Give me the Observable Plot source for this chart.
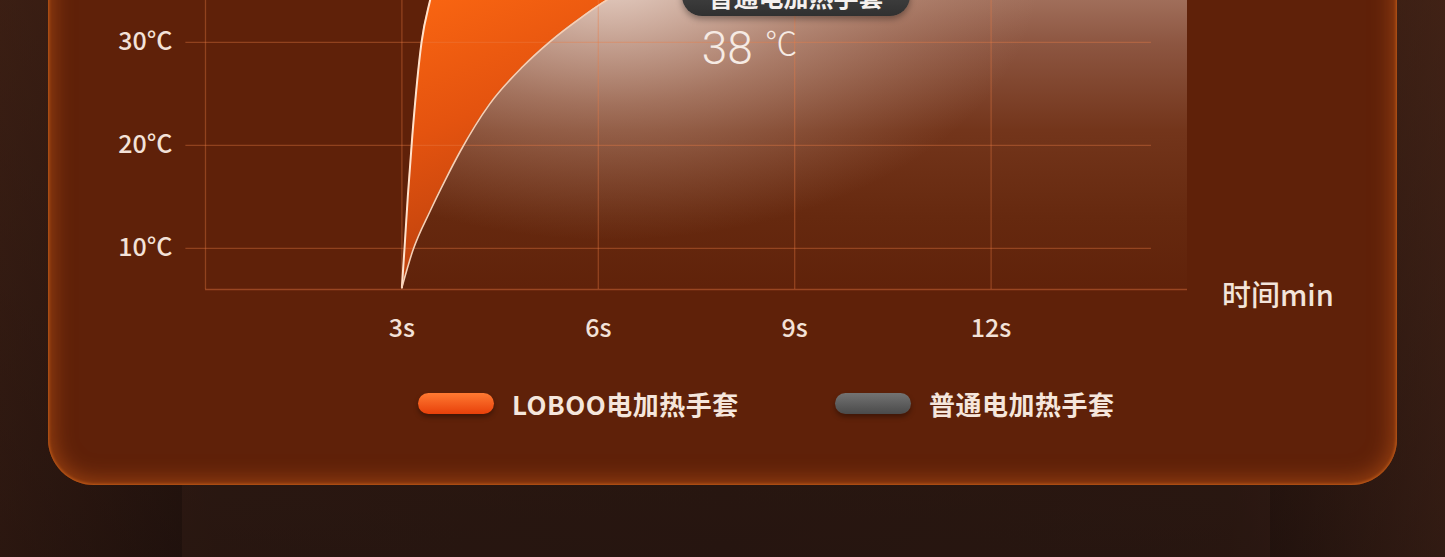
<!DOCTYPE html>
<html><head><meta charset="utf-8">
<script src="https://cdn.jsdelivr.net/npm/d3@7"></script>
<script src="https://cdn.jsdelivr.net/npm/@observablehq/plot@0.6"></script>
<style>
html,body{margin:0;padding:0;width:1445px;height:557px;overflow:hidden;}
body{position:relative;background:linear-gradient(90deg,#3a1f15 0%,#24140f 15%,#1f120d 50%,#24140f 85%,#45261a 100%);font-family:"Noto Sans CJK SC","Noto Sans",sans-serif;}
#shade{position:absolute;left:0;top:0;width:1445px;height:557px;background:linear-gradient(180deg,rgba(60,30,18,0.5) 0%,rgba(20,10,8,0.4) 100%);}
#under{position:absolute;left:182px;top:470px;width:1088px;height:100px;background:rgba(60,35,25,0.35);}
#card{position:absolute;left:48px;top:-120px;width:1349px;height:605px;border-radius:46px;background:#5f2109;box-shadow:inset 0 0 3px 1px rgba(200,95,25,0.9), inset 0 0 22px 4px rgba(170,75,20,0.8);}
#chart{position:absolute;left:0;top:0;}
.bubble{position:absolute;left:682px;top:-24px;width:228px;height:40px;border-radius:20px;background:linear-gradient(180deg,#4c4c4c,#303030);box-shadow:0 3px 6px rgba(0,0,0,0.35);color:#f4f0ee;font-size:25px;font-weight:700;text-align:center;line-height:40px;}
.xlabel{position:absolute;left:1222px;top:273px;font-size:29px;color:#f3e4da;font-weight:500;line-height:40px;}
.leg{position:absolute;top:389px;height:28px;display:flex;align-items:center;}
.pill{width:76px;height:21px;border-radius:11px;margin-right:18px;box-shadow:0 3px 5px rgba(0,0,0,0.35);}
.leg span{font-size:26px;font-weight:700;color:#f5e6dc;white-space:nowrap;letter-spacing:0.5px;}
</style></head>
<body>
<div id="shade"></div>
<div id="under"></div>
<div id="card"></div>
<div id="chart"></div>
<div class="bubble" id="bubble"></div>
<div class="xlabel" id="xlabel"></div>
<div class="leg" id="leg1" style="left:418px"><div class="pill" style="background:linear-gradient(180deg,#ff7a32,#e8400a)"></div><span></span></div>
<div class="leg" id="leg2" style="left:835px"><div class="pill" style="background:linear-gradient(180deg,#737373,#4a4a4a)"></div><span></span></div>
<script>
// ---- data ----
const seriesNames = ["LOBOO电加热手套", "普通电加热手套"];
const lobooTime = [3, 3.04, 3.09, 3.16, 3.3, 3.43, 3.6, 3.9, 4.5, 6.5, 15];
const lobooTemp = [6.2, 10, 15, 21, 30, 34.06, 38, 42, 46, 50, 52];
const normalTime = [3, 3.167, 3.43, 3.66, 3.89, 4.34, 4.84, 5.25, 5.76, 6.12, 7, 8, 9, 10.5, 15];
const normalTemp = [6.2, 9.79, 13.6, 16.6, 19.4, 24.0, 27.6, 30.0, 32.5, 34.06, 36.0, 37.2, 37.8, 38, 38];
const xTicks = [3, 6, 9, 12];
const xGrid = [0, 3, 6, 9, 12];
const yTicks = [10, 20, 30];
const normalPeak = 38;
const xAxisTitle = "时间min";

const loboo = lobooTime.map((t, i) => ({t, T: lobooTemp[i]}));
const normal = normalTime.map((t, i) => ({t, T: normalTemp[i]}));
const base = 6;
const annot = [{t: 7.58, T: 29.3, label: String(normalPeak)}];
const annotUnit = [{t: 8.55, T: 29.8, label: "℃"}];

document.getElementById("bubble").textContent = seriesNames[1];
document.getElementById("xlabel").textContent = xAxisTitle;
document.querySelector("#leg1 span").textContent = seriesNames[0];
document.querySelector("#leg2 span").textContent = seriesNames[1];

const grid = "rgb(235,125,70)";
const gridOp = 0.36;
const plot = Plot.plot({
  width: 1445, height: 360,
  marginLeft: 205, marginRight: 258, marginTop: 0, marginBottom: 71,
  style: {background: "transparent", color: "#f3e2d8", fontFamily: "'Noto Sans CJK SC', sans-serif"},
  x: {domain: [0, 15], label: null},
  y: {domain: [base, 34.06], label: null},
  marks: [
    Plot.areaY(loboo, {x: "t", y1: base, y2: "T", fill: "url(#orangeGrad)", curve: "monotone-x", clip: true}),
    Plot.areaY(normal, {x: "t", y1: base, y2: "T", fill: "url(#grayGrad)", curve: "monotone-x", clip: true}),
    Plot.areaY(normal, {x: "t", y1: base, y2: "T", fill: "url(#glowGrad)", curve: "monotone-x", clip: true}),
    Plot.ruleX(xGrid, {stroke: grid, strokeOpacity: gridOp, strokeWidth: 1.3}),
    Plot.ruleY(yTicks, {x1: -0.3, x2: 14.45, stroke: grid, strokeOpacity: gridOp, strokeWidth: 1.3}),
    Plot.ruleY([base], {stroke: grid, strokeOpacity: gridOp + 0.05, strokeWidth: 1.5}),
    Plot.lineY(loboo, {x: "t", y: "T", stroke: "#ffe2cc", strokeWidth: 2, curve: "monotone-x", clip: true}),
    Plot.lineY(normal, {x: "t", y: "T", stroke: "#f7cfb4", strokeWidth: 1.6, curve: "monotone-x", clip: true}),
    Plot.axisY(yTicks, {label: null, tickSize: 0, tickPadding: 33, fontSize: 25, fontWeight: 500, tickFormat: d => d + "°C", fill: "#f3e2d8"}),
    Plot.axisX(xTicks, {label: null, tickSize: 0, tickPadding: 30, fontSize: 25, fontWeight: 500, tickFormat: d => d + "s", fill: "#f3e2d8"}),
    Plot.text(annot, {x: "t", y: "T", text: "label", textAnchor: "start", fontSize: 46, fontWeight: 300, fill: "#f6ebe4", fontFamily: "Roboto, 'Open Sans', sans-serif"}),
    Plot.text(annotUnit, {x: "t", y: "T", text: "label", textAnchor: "start", fontSize: 32, fontWeight: 300, fill: "#f6ebe4", fontFamily: "'Noto Sans CJK SC', sans-serif"})
  ]
});
document.getElementById("chart").appendChild(plot);
const svg = d3.select(plot);
svg.insert("defs", ":first-child").html(`
  <linearGradient id="orangeGrad" gradientUnits="userSpaceOnUse" x1="420" y1="-40" x2="540" y2="260">
    <stop offset="0" stop-color="#ff6a12"/>
    <stop offset="0.5" stop-color="#e4530f"/>
    <stop offset="1" stop-color="#b63e0d"/>
  </linearGradient>
  <linearGradient id="grayGrad" gradientUnits="userSpaceOnUse" x1="0" y1="0" x2="0" y2="289">
    <stop offset="0" stop-color="#a06e5a"/>
    <stop offset="0.15" stop-color="#8d5641"/>
    <stop offset="0.45" stop-color="#73351b"/>
    <stop offset="0.75" stop-color="#66290f"/>
    <stop offset="1" stop-color="#60220a"/>
  </linearGradient>
  <radialGradient id="glowGrad" gradientUnits="userSpaceOnUse" cx="0" cy="0" r="1" gradientTransform="translate(610,-30) scale(430,270)">
    <stop offset="0" stop-color="#f0dfd6" stop-opacity="0.9"/>
    <stop offset="0.5" stop-color="#dcbcac" stop-opacity="0.4"/>
    <stop offset="1" stop-color="#c8a08c" stop-opacity="0"/>
  </radialGradient>`);
</script>
</body></html>
